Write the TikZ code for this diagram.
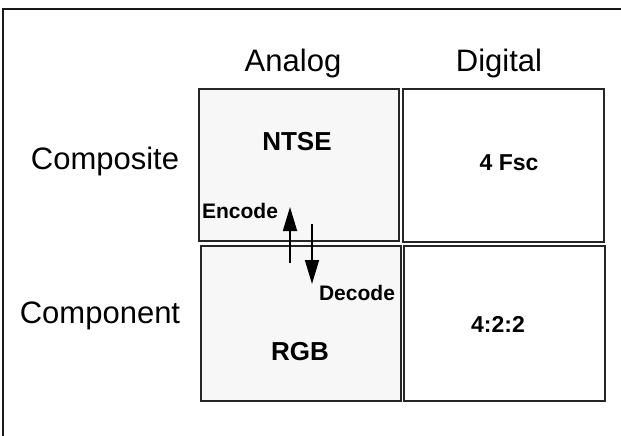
\documentclass[tikz,border=0pt]{standalone}
\usepackage{fontspec}
\setmainfont{Liberation Sans}
\usetikzlibrary{arrows.meta}
\begin{document}
\begin{tikzpicture}[x=1pt,y=-1pt,
  cell/.style={draw=black!85,line width=1.6pt,inner sep=0pt,anchor=north west},
  analogcell/.style={cell,fill=black!3},
  digitalcell/.style={cell,fill=white},
  heading/.style={font=\fontsize{31}{31}\selectfont,inner sep=0pt},
  cellname/.style={font=\fontsize{26}{26}\selectfont\bfseries,inner sep=0pt},
  digname/.style={font=\fontsize{23}{23}\selectfont\bfseries,inner sep=0pt},
  flowname/.style={font=\fontsize{21}{21}\selectfont\bfseries,inner sep=0pt},
  flow/.style={line width=1.8pt,-{Triangle[length=24pt,width=14pt]}}]
\useasboundingbox (0,0) rectangle (621,436);
% frame
\draw[line width=1.2pt,black!90] (3,436) -- (3,9) -- (621,9);
% cells
\node[analogcell,minimum width=200pt,minimum height=152pt] (ntse) at (198,88) {};
\node[digitalcell,minimum width=201pt,minimum height=153pt] (fsc) at (402,88) {};
\node[analogcell,minimum width=200pt,minimum height=155pt] (rgb) at (200,245) {};
\node[digitalcell,minimum width=201pt,minimum height=155pt] (ycc) at (403,245) {};
% headings
\node[heading] (analog) at (293,63) {Analog};
\node[heading] (digital) at (499,63) {Digital};
\node[heading] (composite) at (105,161) {Composite};
\node[heading] (component) at (100,316) {Component};
% cell contents
\node[cellname] (ntsetxt) at (297,142) {NTSE};
\node[cellname] (rgbtxt) at (300,352) {RGB};
\node[digname] (fsctxt) at (509,163) {4 Fsc};
\node[digname] (ycctxt) at (498,324) {4:2:2};
\node[flowname] (enc) at (240,211) {Encode};
\node[flowname] (dec) at (357,293) {Decode};
% encode / decode arrows
\coordinate (encfrom) at (290,263);
\coordinate (encto) at (290,207);
\coordinate (decfrom) at (312,224);
\coordinate (decto) at (312,284);
\draw[flow] (encfrom) -- (encto);
\draw[flow] (decfrom) -- (decto);
\end{tikzpicture}
\end{document}
